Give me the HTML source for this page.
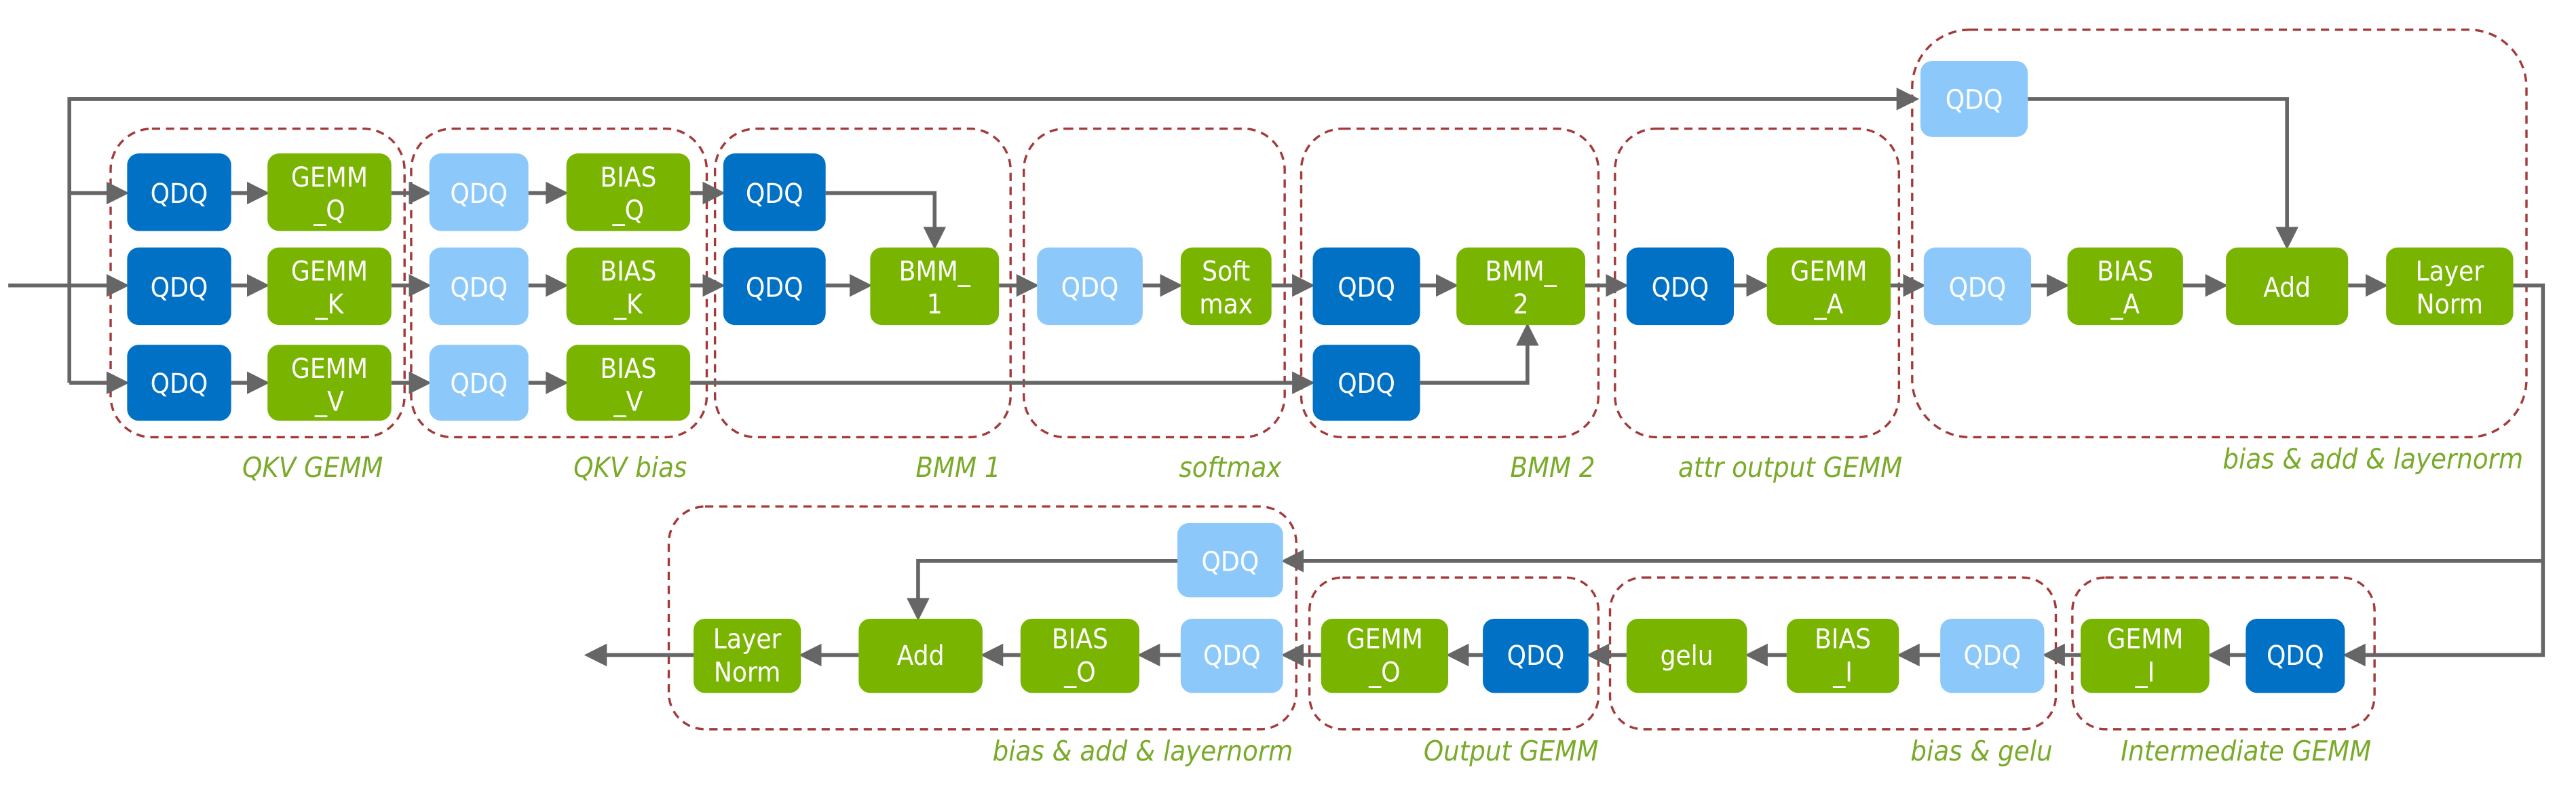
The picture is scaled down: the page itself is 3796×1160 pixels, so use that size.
<!DOCTYPE html>
<html><head><meta charset="utf-8"><style>
html,body{margin:0;padding:0;background:#fff;}
svg{display:block;}
.t{font-family:"DejaVu Sans Condensed","Liberation Sans",sans-serif;font-size:16.5px;fill:#fff;text-anchor:middle;}
.lb{font-family:"DejaVu Sans Condensed","Liberation Sans",sans-serif;font-size:17px;font-style:italic;fill:#7aaa2a;text-anchor:end;}
.g{fill:none;stroke:#a33a3a;stroke-width:1.4;stroke-dasharray:5,3.5;}
.l{fill:none;stroke:#666;stroke-width:2.3;}
</style></head><body>
<svg width="3796" height="1160" viewBox="0 0 1560 477" preserveAspectRatio="none" xmlns="http://www.w3.org/2000/svg">
<defs><marker id="a" markerWidth="6" markerHeight="6" refX="5" refY="3" orient="auto" markerUnits="strokeWidth"><path d="M0,0 L6,3 L0,6 z" fill="#666"/></marker></defs>
<rect class="g" x="67" y="78" width="178" height="187" rx="25"/>
<rect class="g" x="249" y="78" width="179" height="187" rx="25"/>
<rect class="g" x="433" y="78" width="179" height="187" rx="25"/>
<rect class="g" x="620" y="78" width="158" height="187" rx="25"/>
<rect class="g" x="788" y="78" width="180" height="187" rx="25"/>
<rect class="g" x="978" y="78" width="172" height="187" rx="25"/>
<rect class="g" x="1158" y="18" width="372" height="247" rx="35"/>
<rect class="g" x="405" y="307" width="380" height="135" rx="22"/>
<rect class="g" x="793" y="350" width="175" height="92" rx="20"/>
<rect class="g" x="975" y="350" width="270" height="92" rx="20"/>
<rect class="g" x="1255" y="350" width="183" height="92" rx="20"/>
<text class="lb" x="232" y="289">QKV GEMM</text>
<text class="lb" x="416" y="289">QKV bias</text>
<text class="lb" x="606" y="289">BMM 1</text>
<text class="lb" x="776" y="289">softmax</text>
<text class="lb" x="966" y="289">BMM 2</text>
<text class="lb" x="1152" y="289">attr output GEMM</text>
<text class="lb" x="1528" y="284">bias &amp; add &amp; layernorm</text>
<text class="lb" x="783" y="461">bias &amp; add &amp; layernorm</text>
<text class="lb" x="968" y="461">Output GEMM</text>
<text class="lb" x="1243" y="461">bias &amp; gelu</text>
<text class="lb" x="1436" y="461">Intermediate GEMM</text>
<path class="l" d="M5,173 H42"/>
<path class="l" d="M1160,60 H42 V232"/>
<path class="l" d="M42,60 H1160" marker-end="url(#a)"/>
<path class="l" d="M42,117 H76" marker-end="url(#a)"/>
<path class="l" d="M42,173 H76" marker-end="url(#a)"/>
<path class="l" d="M42,232 H76" marker-end="url(#a)"/>
<g class="l">
<path d="M140,117 H161" marker-end="url(#a)"/><path d="M140,173 H161" marker-end="url(#a)"/><path d="M140,232 H161" marker-end="url(#a)"/>
<path d="M237,117 H259" marker-end="url(#a)"/><path d="M237,173 H259" marker-end="url(#a)"/><path d="M237,232 H259" marker-end="url(#a)"/>
<path d="M320,117 H342" marker-end="url(#a)"/><path d="M320,173 H342" marker-end="url(#a)"/><path d="M320,232 H342" marker-end="url(#a)"/>
<path d="M418,117 H437" marker-end="url(#a)"/><path d="M418,173 H437" marker-end="url(#a)"/>
<path d="M418,232 H794" marker-end="url(#a)"/>
<path d="M500,117 H566 V149" marker-end="url(#a)"/>
<path d="M500,173 H526" marker-end="url(#a)"/>
<path d="M605,173 H627" marker-end="url(#a)"/>
<path d="M692,173 H714" marker-end="url(#a)"/>
<path d="M770,173 H794" marker-end="url(#a)"/>
<path d="M860,173 H881" marker-end="url(#a)"/>
<path d="M860,232 H925 V198" marker-end="url(#a)"/>
<path d="M960,173 H984" marker-end="url(#a)"/>
<path d="M1050,173 H1069" marker-end="url(#a)"/>
<path d="M1145,173 H1164" marker-end="url(#a)"/>
<path d="M1230,173 H1251" marker-end="url(#a)"/>
<path d="M1322,173 H1347" marker-end="url(#a)"/>
<path d="M1228,60 H1385 V149" marker-end="url(#a)"/>
<path d="M1422,173 H1444" marker-end="url(#a)"/>
<path d="M1522,173 H1540 V397 H1421" marker-end="url(#a)"/>
<path d="M1540,340 H778" marker-end="url(#a)"/>
<path d="M713,340 H556 V374" marker-end="url(#a)"/>
<path d="M1360,397 H1339" marker-end="url(#a)"/>
<path d="M1260,397 H1239" marker-end="url(#a)"/>
<path d="M1175,397 H1151" marker-end="url(#a)"/>
<path d="M1082,397 H1059" marker-end="url(#a)"/>
<path d="M985,397 H963" marker-end="url(#a)"/>
<path d="M898,397 H878" marker-end="url(#a)"/>
<path d="M800,397 H778" marker-end="url(#a)"/>
<path d="M715,397 H691" marker-end="url(#a)"/>
<path d="M618,397 H596" marker-end="url(#a)"/>
<path d="M520,397 H486" marker-end="url(#a)"/>
<path d="M420,397 H356" marker-end="url(#a)"/>
</g>
<g>
<rect x="77" y="93" width="63" height="47" rx="7" fill="#0071c5"/><text class="t" x="108.5" y="123">QDQ</text>
<rect x="77" y="150" width="63" height="47" rx="7" fill="#0071c5"/><text class="t" x="108.5" y="180">QDQ</text>
<rect x="77" y="209" width="63" height="46" rx="7" fill="#0071c5"/><text class="t" x="108.5" y="238">QDQ</text>
<rect x="162" y="93" width="75" height="47" rx="7" fill="#78b400"/><text class="t" x="199.5" y="113">GEMM</text><text class="t" x="199.5" y="133">_Q</text>
<rect x="162" y="150" width="75" height="47" rx="7" fill="#78b400"/><text class="t" x="199.5" y="170">GEMM</text><text class="t" x="199.5" y="190">_K</text>
<rect x="162" y="209" width="75" height="46" rx="7" fill="#78b400"/><text class="t" x="199.5" y="229">GEMM</text><text class="t" x="199.5" y="249">_V</text>
<rect x="260" y="93" width="60" height="47" rx="7" fill="#8cc9fa"/><text class="t" x="290" y="123">QDQ</text>
<rect x="260" y="150" width="60" height="47" rx="7" fill="#8cc9fa"/><text class="t" x="290" y="180">QDQ</text>
<rect x="260" y="209" width="60" height="46" rx="7" fill="#8cc9fa"/><text class="t" x="290" y="238">QDQ</text>
<rect x="343" y="93" width="75" height="47" rx="7" fill="#78b400"/><text class="t" x="380.5" y="113">BIAS</text><text class="t" x="380.5" y="133">_Q</text>
<rect x="343" y="150" width="75" height="47" rx="7" fill="#78b400"/><text class="t" x="380.5" y="170">BIAS</text><text class="t" x="380.5" y="190">_K</text>
<rect x="343" y="209" width="75" height="46" rx="7" fill="#78b400"/><text class="t" x="380.5" y="229">BIAS</text><text class="t" x="380.5" y="249">_V</text>
<rect x="438" y="93" width="62" height="47" rx="7" fill="#0071c5"/><text class="t" x="469" y="123">QDQ</text>
<rect x="438" y="150" width="62" height="47" rx="7" fill="#0071c5"/><text class="t" x="469" y="180">QDQ</text>
<rect x="527" y="150" width="78" height="47" rx="7" fill="#78b400"/><text class="t" x="566" y="170">BMM_</text><text class="t" x="566" y="190">1</text>
<rect x="628" y="150" width="64" height="47" rx="7" fill="#8cc9fa"/><text class="t" x="660" y="180">QDQ</text>
<rect x="715" y="150" width="55" height="47" rx="7" fill="#78b400"/><text class="t" x="742.5" y="170">Soft</text><text class="t" x="742.5" y="190">max</text>
<rect x="795" y="150" width="65" height="47" rx="7" fill="#0071c5"/><text class="t" x="827.5" y="180">QDQ</text>
<rect x="795" y="209" width="65" height="46" rx="7" fill="#0071c5"/><text class="t" x="827.5" y="238">QDQ</text>
<rect x="882" y="150" width="78" height="47" rx="7" fill="#78b400"/><text class="t" x="921" y="170">BMM_</text><text class="t" x="921" y="190">2</text>
<rect x="985" y="150" width="65" height="47" rx="7" fill="#0071c5"/><text class="t" x="1017.5" y="180">QDQ</text>
<rect x="1070" y="150" width="75" height="47" rx="7" fill="#78b400"/><text class="t" x="1107.5" y="170">GEMM</text><text class="t" x="1107.5" y="190">_A</text>
<rect x="1163" y="37" width="65" height="46" rx="7" fill="#8cc9fa"/><text class="t" x="1195.5" y="66">QDQ</text>
<rect x="1165" y="150" width="65" height="47" rx="7" fill="#8cc9fa"/><text class="t" x="1197.5" y="180">QDQ</text>
<rect x="1252" y="150" width="70" height="47" rx="7" fill="#78b400"/><text class="t" x="1287" y="170">BIAS</text><text class="t" x="1287" y="190">_A</text>
<rect x="1348" y="150" width="74" height="47" rx="7" fill="#78b400"/><text class="t" x="1385" y="180">Add</text>
<rect x="1445" y="150" width="77" height="47" rx="7" fill="#78b400"/><text class="t" x="1483.5" y="170">Layer</text><text class="t" x="1483.5" y="190">Norm</text>
<rect x="1360" y="375" width="60" height="45" rx="7" fill="#0071c5"/><text class="t" x="1390" y="403">QDQ</text>
<rect x="1260" y="375" width="78" height="45" rx="7" fill="#78b400"/><text class="t" x="1299" y="393">GEMM</text><text class="t" x="1299" y="413">_I</text>
<rect x="1175" y="375" width="63" height="45" rx="7" fill="#8cc9fa"/><text class="t" x="1206.5" y="403">QDQ</text>
<rect x="1082" y="375" width="68" height="45" rx="7" fill="#78b400"/><text class="t" x="1116" y="393">BIAS</text><text class="t" x="1116" y="413">_I</text>
<rect x="985" y="375" width="73" height="45" rx="7" fill="#78b400"/><text class="t" x="1021.5" y="403">gelu</text>
<rect x="898" y="375" width="64" height="45" rx="7" fill="#0071c5"/><text class="t" x="930" y="403">QDQ</text>
<rect x="800" y="375" width="77" height="45" rx="7" fill="#78b400"/><text class="t" x="838.5" y="393">GEMM</text><text class="t" x="838.5" y="413">_O</text>
<rect x="715" y="375" width="62" height="45" rx="7" fill="#8cc9fa"/><text class="t" x="746" y="403">QDQ</text>
<rect x="713" y="317" width="64" height="45" rx="7" fill="#8cc9fa"/><text class="t" x="745" y="346">QDQ</text>
<rect x="618" y="375" width="72" height="45" rx="7" fill="#78b400"/><text class="t" x="654" y="393">BIAS</text><text class="t" x="654" y="413">_O</text>
<rect x="520" y="375" width="75" height="45" rx="7" fill="#78b400"/><text class="t" x="557.5" y="403">Add</text>
<rect x="420" y="375" width="65" height="45" rx="7" fill="#78b400"/><text class="t" x="452.5" y="393">Layer</text><text class="t" x="452.5" y="413">Norm</text>
</g>
</svg>
</body></html>
